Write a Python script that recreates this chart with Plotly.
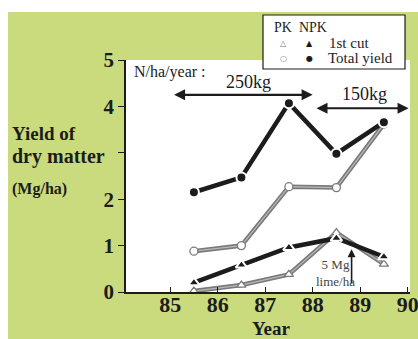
import plotly.graph_objects as go

years = [85.5, 86.5, 87.5, 88.5, 89.5]
total_npk = [2.15, 2.47, 4.07, 2.98, 3.66]
total_pk = [0.88, 1.00, 2.27, 2.25, 3.62]
cut_npk = [0.20, 0.58, 0.96, 1.16, 0.76]
cut_pk = [0.02, 0.15, 0.38, 1.28, 0.60]

x_ticks = [85, 86, 87, 88, 89, 90]
x_ticktext = ["85", "86", "87", "88", "89", "90"]
y_ticks = [0, 1, 2, 3, 4, 5]
y_ticktext = ["0", "1", "2", "", "4", "5"]

W, H = 418, 339
L, R, T, B = 126, 8, 60, 47
PW, PH = W - L - R, H - T - B

def px(x):
    return (x - L) / PW

def py(y):
    return 1 - (y - T) / PH

GREEN = "#c9db7c"
INK = "#1c1c1c"
GRAY = "#7a7a7a"
SERIF = "Liberation Serif, Times New Roman, serif"

fig = go.Figure()

for ys, sym in [(cut_pk, "triangle-up"), (total_pk, "circle")]:
    fig.add_trace(go.Scatter(x=years, y=ys, mode="lines",
        line=dict(color=GRAY, width=4.5)))
    fig.add_trace(go.Scatter(x=years, y=ys, mode="lines+markers",
        line=dict(color="#b8b8b8", width=1.2),
        marker=dict(symbol=sym, size=8, color="white", line=dict(color=GRAY, width=1.3))))
fig.add_trace(go.Scatter(x=years, y=cut_npk, mode="lines+markers",
    line=dict(color=INK, width=4.5),
    marker=dict(symbol="triangle-up", size=10, color=INK, line=dict(color="white", width=2))))
fig.add_trace(go.Scatter(x=years, y=total_npk, mode="lines+markers",
    line=dict(color=INK, width=4.5),
    marker=dict(symbol="circle", size=10, color=INK, line=dict(color="white", width=2))))

shapes = [
    dict(type="rect", xref="paper", yref="paper", x0=px(0), x1=px(W), y0=py(0), y1=py(12),
         fillcolor="white", line=dict(width=0), layer="below"),
    dict(type="rect", xref="paper", yref="paper", x0=px(0), x1=px(8), y0=py(0), y1=py(H),
         fillcolor="white", line=dict(width=0), layer="below"),
    dict(type="rect", xref="paper", yref="paper", x0=px(263), x1=px(405), y0=py(15), y1=py(69),
         fillcolor="white", line=dict(color=INK, width=1.2), layer="above"),
]

ann = []
def txt(x, y, s, size, bold=False, xanchor="center", family=SERIF, color=INK):
    ann.append(dict(x=px(x), y=py(y), xref="paper", yref="paper", text=("<b>%s</b>" % s) if bold else s,
                    showarrow=False, xanchor=xanchor, yanchor="middle",
                    font=dict(family=family, size=size, color=color)))

# legend
txt(272, 28, "PK  NPK", 14, xanchor="left")
txt(283, 43, "△", 8, family="DejaVu Sans", color=GRAY)
txt(309, 43, "▲", 8, family="DejaVu Sans")
txt(283, 58, "○", 8, family="DejaVu Sans", color=GRAY)
txt(309, 58, "●", 8, family="DejaVu Sans")
txt(327, 43, "1st cut", 15, xanchor="left")
txt(326, 58, "Total yield", 15, xanchor="left")

# axis titles
txt(10, 133, "Yield of", 19, bold=True, xanchor="left")
txt(10, 156, "dry matter", 20, bold=True, xanchor="left")
txt(10, 189, "(Mg/ha)", 16, bold=True, xanchor="left")
txt(271, 328, "Year", 19, bold=True)

# in-plot labels
ann.append(dict(x=84.2, y=(292 - 72) / 46.4, text="N/ha/year :", showarrow=False, xanchor="left",
                font=dict(family=SERIF, size=16, color=INK)))
ann.append(dict(x=86.65, y=(292 - 82) / 46.4, text="250kg", showarrow=False,
                font=dict(family=SERIF, size=18, color=INK)))
ann.append(dict(x=89.1, y=(292 - 94) / 46.4, text="150kg", showarrow=False,
                font=dict(family=SERIF, size=18, color=INK)))
ann.append(dict(x=88.0, y=4.25, ax=85.05, ay=4.25, axref="x", ayref="y", text="",
                showarrow=True, arrowhead=2, arrowside="end+start", arrowwidth=2.2,
                arrowsize=1, arrowcolor=INK))
ann.append(dict(x=90.02, y=3.96, ax=88.05, ay=3.96, axref="x", ayref="y", text="",
                showarrow=True, arrowhead=2, arrowside="end+start", arrowwidth=2.2,
                arrowsize=1, arrowcolor=INK))
ann.append(dict(x=88.82, y=0.92, ax=88.82, ay=0.15, axref="x", ayref="y", text="",
                showarrow=True, arrowhead=2, arrowwidth=1.6, arrowsize=1, arrowcolor=INK))
ann.append(dict(x=88.48, y=0.4, text="5 Mg<br>lime/ha", showarrow=False,
                font=dict(family=SERIF, size=13, color="#444"), align="center"))

fig.update_layout(
    width=W, height=H, margin=dict(l=L, r=R, t=T, b=B, autoexpand=False),
    paper_bgcolor=GREEN, plot_bgcolor="white", showlegend=False,
    shapes=shapes, annotations=ann,
    xaxis=dict(range=[84.07, 90.05], tickvals=x_ticks,
               ticktext=["<b>%s</b>" % t for t in x_ticktext], ticks="inside", ticklen=5,
               tickcolor=INK, showline=True, linecolor=INK, linewidth=1.5, showgrid=False,
               zeroline=False, automargin=False, ticklabeloverflow="allow",
               ticklabelstandoff=-8,
               tickfont=dict(family=SERIF, size=22, color=INK)),
    yaxis=dict(range=[0, 5], tickvals=y_ticks, ticktext=["<b>%s</b>" % t for t in y_ticktext],
               ticks="outside", ticklen=6, tickcolor=INK, showline=True, linecolor=INK,
               linewidth=1.5, showgrid=False, zeroline=False, automargin=False,
               tickfont=dict(family=SERIF, size=21, color=INK)),
)

fig.write_html("out.html")
